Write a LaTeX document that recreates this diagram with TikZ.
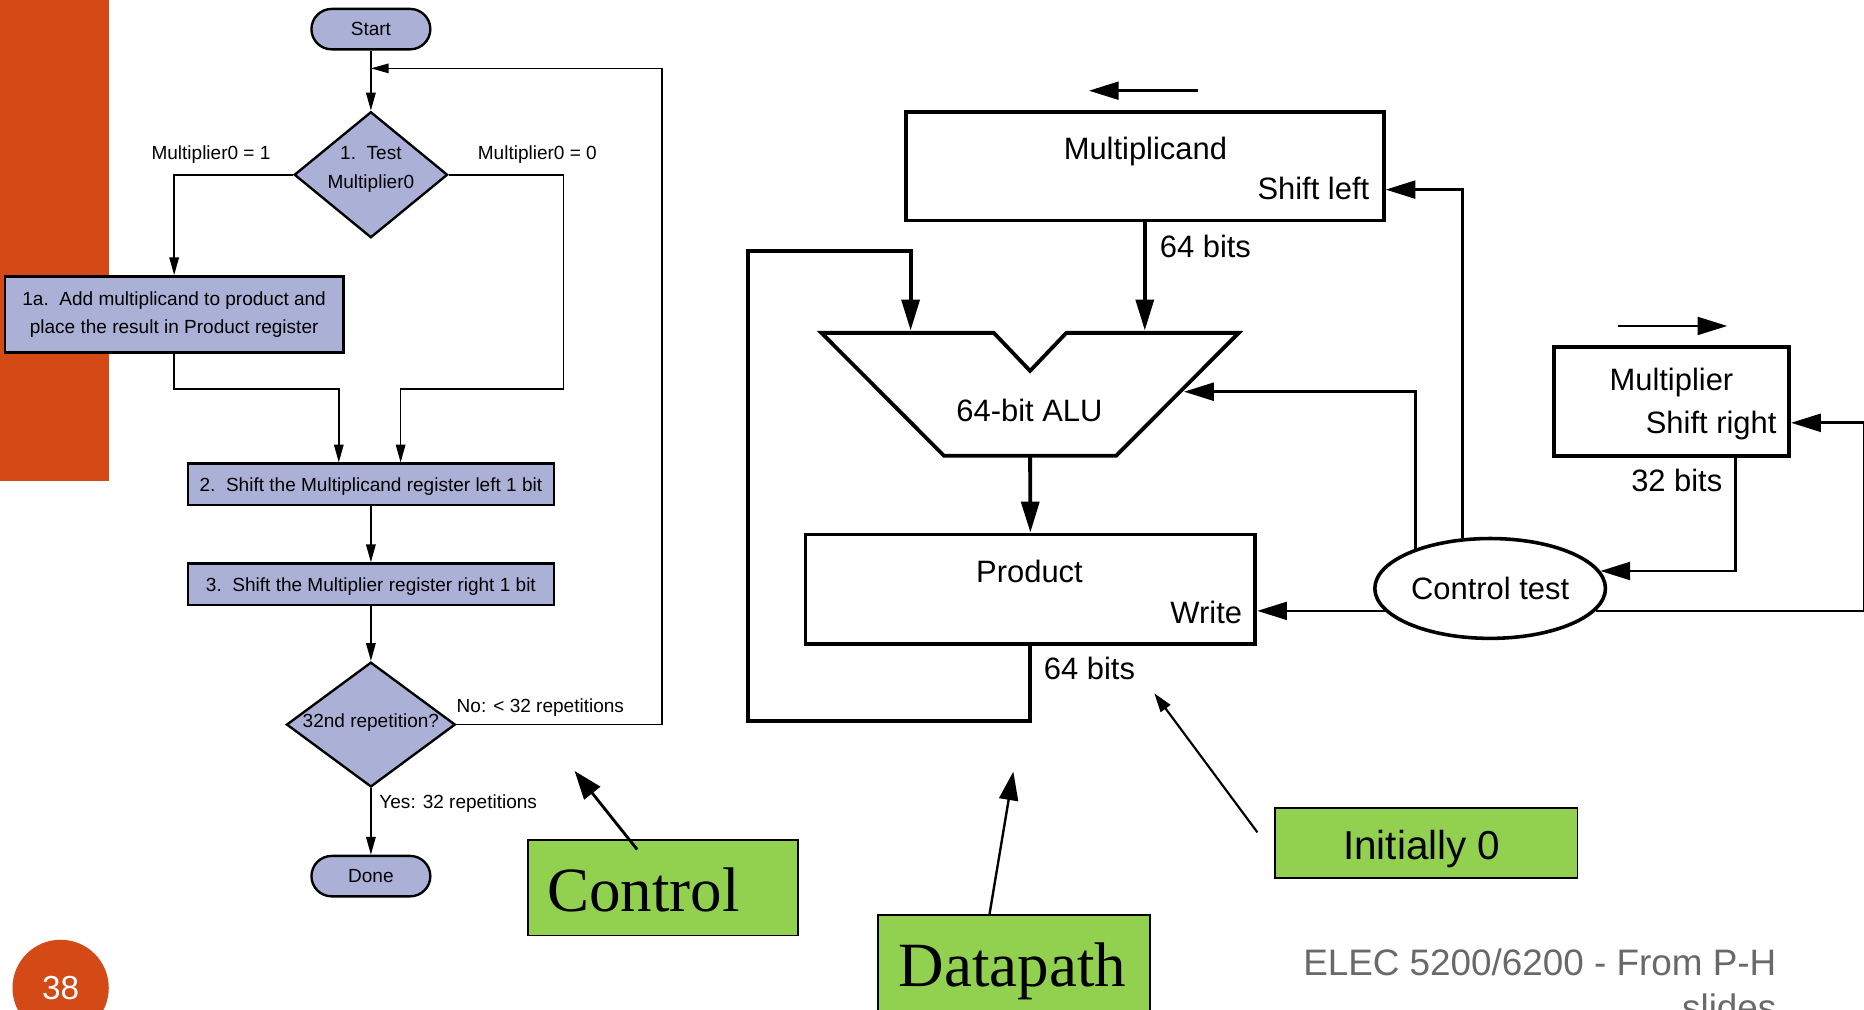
\documentclass[tikz,border=0pt]{standalone}
\usepackage{fontspec}
\setmainfont{Liberation Sans}
\newfontfamily\notefont{Liberation Serif}
\usetikzlibrary{arrows.meta,shapes.geometric,calc}
\definecolor{slideorange}{RGB}{211,74,23}
\definecolor{flowfill}{RGB}{171,177,214}
\definecolor{notegreen}{RGB}{146,208,80}
\definecolor{footgray}{RGB}{105,105,105}
\begin{document}
\begin{tikzpicture}[x=1pt,y=-1pt,
  flowfont/.style={font=\fontsize{16}{24}\selectfont},
  flowshape/.style={draw=black, line width=2pt, fill=flowfill, inner sep=0pt},
  terminal/.style={flowshape, flowfont, rounded corners=17pt, minimum width=100pt, minimum height=34pt, text height=11.5pt, text depth=0pt},
  stepbox/.style={flowshape, flowfont, minimum width=308pt, minimum height=35pt, text height=11.5pt, text depth=0pt},
  decision/.style={flowshape, diamond},
  flowlabel/.style={flowfont, inner sep=0pt, align=center},
  flowline/.style={line width=1.3pt, -{Triangle[length=15pt,width=8pt]}},
  dpfont/.style={font=\fontsize{26}{30}\selectfont},
  register/.style={draw=black, line width=3.2pt, inner sep=0pt},
  dplabel/.style={dpfont, inner sep=0pt},
  bus/.style={line width=3.2pt, -{Triangle[length=26pt,width=15pt]}},
  ctlline/.style={line width=2.2pt, -{Triangle[length=25pt,width=15pt]}},
  shiftarrow/.style={line width=2.2pt, -{Triangle[length=25pt,width=15pt]}},
  note/.style={draw=black, line width=1.5pt, fill=notegreen, inner sep=0pt},
  notetext/.style={inner sep=0pt, anchor=base west},
]
\useasboundingbox (0,0) rectangle (1568,849);
\clip (0,0) rectangle (1568,849);
\fill[white] (0,0) rectangle (1568,849);

% slide furniture
\fill[slideorange] (0,0) rectangle (92,405);
\node[circle, fill=slideorange, minimum size=81pt, inner sep=0pt, text=white,
      font=\fontsize{28}{32}\selectfont] (pagenum) at (51,831) {38};

% ---------------- flowchart ----------------
\node[terminal] (start) at (312,24.5) {Start};
\node[decision, minimum width=129pt, minimum height=106pt] (test) at (312,147) {};
\node[flowlabel] (testtxt) at (312,142.7) {1.\ \ Test\\Multiplier0};
\node[flowshape, flowfont, align=center, minimum width=285pt, minimum height=64pt]
      (add) at (146.5,264.5) {1a.\ \ Add multiplicand to product and\\place the result in Product register};
\node[stepbox] (shiftmc) at (312,407.5) {2.\ \ Shift the Multiplicand register left 1 bit};
\node[stepbox] (shiftmp) at (312,491.5) {3.\ \ Shift the Multiplier register right 1 bit};
\node[decision, minimum width=142pt, minimum height=105pt] (rep) at (312,609.5) {};
\node[flowlabel] (reptxt) at (312,608) {32nd repetition?};
\node[terminal] (done) at (312,737) {Done};

\node[flowlabel, anchor=base] (m1lbl) at (177.5,134.5) {Multiplier0 = 1};
\node[flowlabel, anchor=base] (m0lbl) at (452,134.5) {Multiplier0 = 0};
\node[flowlabel, anchor=base west] (nolbl) at (384,599.5) {No: < 32 repetitions};
\node[flowlabel, anchor=base west] (yeslbl) at (319,680.5) {Yes: 32 repetitions};

\coordinate (ljoin) at (285,327);
\coordinate (rbend) at (474,327);
\coordinate (rjoin) at (337,327);
\coordinate (loopcorner) at (557,57.5);
\coordinate (loopin) at (312,57.5);

\draw[flowline] (start) -- (test);
\draw[flowline] (test.west) -| (add.north);
\draw[flowline] (add.south) |- (ljoin) -- (ljoin |- shiftmc.north);
\draw[flowline] (test.east) -| (rbend) -| (rjoin |- shiftmc.north);
\draw[flowline] (shiftmc) -- (shiftmp);
\draw[flowline] (shiftmp) -- (rep);
\draw[flowline] (rep) -- (done);
\draw[flowline] (rep.east) -| (loopcorner) -- (loopin);

% ---------------- datapath ----------------
\node[register, minimum width=402pt, minimum height=91pt] (mcand) at (963,140) {};
\node[dplabel, anchor=base] (mcandname) at (963.5,134.5) {Multiplicand};
\node[dplabel, anchor=base east] (mcandop) at (1152,167.4) {Shift left};
\node[dplabel, anchor=base west] (bitsa) at (975.5,216.5) {64 bits};

\coordinate (shlA) at (1008,76.3);
\coordinate (shlB) at (916,76.3);
\draw[shiftarrow] (shlA) -- (shlB);

% ALU outline with its notch
\draw[line width=3.2pt, line join=miter]
  (691,280) -- (836,280) -- (866.5,312) -- (897,280) -- (1042,280)
  -- (939,383.3) -- (794,383.3) -- cycle;
\coordinate (aluinl) at (766,278);
\coordinate (aluinr) at (963,278);
\coordinate (aluout) at (866.5,383.3);
\coordinate (aluctl) at (996,329.5);
\node[dplabel, anchor=base] (alulbl) at (866,354.7) {64-bit ALU};

\node[register, minimum width=378.5pt, minimum height=92pt] (prod) at (866.75,495.6) {};
\node[dplabel, anchor=base] (prodname) at (866,489.8) {Product};
\node[dplabel, anchor=base east] (prodop) at (1045,524.3) {Write};
\node[dplabel, anchor=base west] (bitsb) at (878,572) {64 bits};

\node[register, minimum width=197.5pt, minimum height=91.3pt] (mult) at (1406.25,337.65) {};
\node[dplabel, anchor=base] (multname) at (1406,328.6) {Multiplier};
\node[dplabel, anchor=base east] (multop) at (1494.5,364.5) {Shift right};
\node[dplabel, anchor=base east] (bitsc) at (1449,413.6) {32 bits};

\coordinate (shrA) at (1361,274.2);
\coordinate (shrB) at (1453,274.2);
\draw[shiftarrow] (shrA) -- (shrB);

\node[draw=black, line width=3pt, ellipse, minimum width=194pt, minimum height=84pt,
      inner sep=0pt, dpfont] (ctrl) at (1253.5,495) {Control test};

% data buses
\coordinate (fbl) at (629.4,606.2);
\coordinate (fbt) at (629.4,211);
\draw[bus] (mcand.south) -- (aluinr);
\draw[bus] (aluout) -- (prod.north);
\draw[bus] (prod.south) |- (fbl) -- (fbt) -| (aluinl);

% control signals
\draw[ctlline] (ctrl.119) |- ($(mcand.east)+(0,19.5)$);
\draw[ctlline] (ctrl.152) |- (aluctl);
\draw[ctlline] (ctrl.192) -- (ctrl.192 -| prod.east);
\draw[ctlline] (ctrl.-12) -| ($(mult.east)+(61.5,18)$) -- ($(mult.east)+(0,18)$);
\draw[ctlline] ($(mult.south)+(53.5,0)$) |- (ctrl.9);

% ---------------- annotations ----------------
\node[note, minimum width=227pt, minimum height=80.5pt] (ctlnote) at (557.5,746.6) {};
\node[notetext, font=\notefont\fontsize{53}{60}\selectfont] (ctlnotetxt) at (460,767) {Control};
\node[note, minimum width=228.6pt, minimum height=130pt] (dpnote) at (853,834.7) {};
\node[notetext, font=\notefont\fontsize{53}{60}\selectfont] (dpnotetxt) at (756,830) {Datapath};
\node[note, minimum width=254.2pt, minimum height=58.8pt] (initnote) at (1199.9,709.4) {};
\node[notetext, font=\fontsize{34}{40}\selectfont] (initnotetxt) at (1129.7,723.4) {Initially 0};

\coordinate (ctlpoint) at (483.3,648.5);
\coordinate (dppoint) at (852.4,649.1);
\coordinate (initpoint) at (971,583.2);
\draw[line width=2.4pt, -{Triangle[length=24pt,width=17pt]}] ($(ctlnote.north)+(-21.5,9)$) -- (ctlpoint);
\draw[line width=2pt, -{Triangle[length=24pt,width=16pt]}] ($(dpnote.north)+(-20.6,0)$) -- (dppoint);
\draw[line width=1.8pt, -{Triangle[length=16pt,width=10pt]}] ($(initnote.west)+(-14.3,-9.2)$) -- (initpoint);

% footer (base anchor sits on the last line)
\node[anchor=base east, align=right, text=footgray, inner sep=0pt,
      font=\fontsize{31}{38}\selectfont] (footer) at (1494.5,858.5)
      {ELEC 5200/6200 - From P-H\\slides};
\end{tikzpicture}
\end{document}
